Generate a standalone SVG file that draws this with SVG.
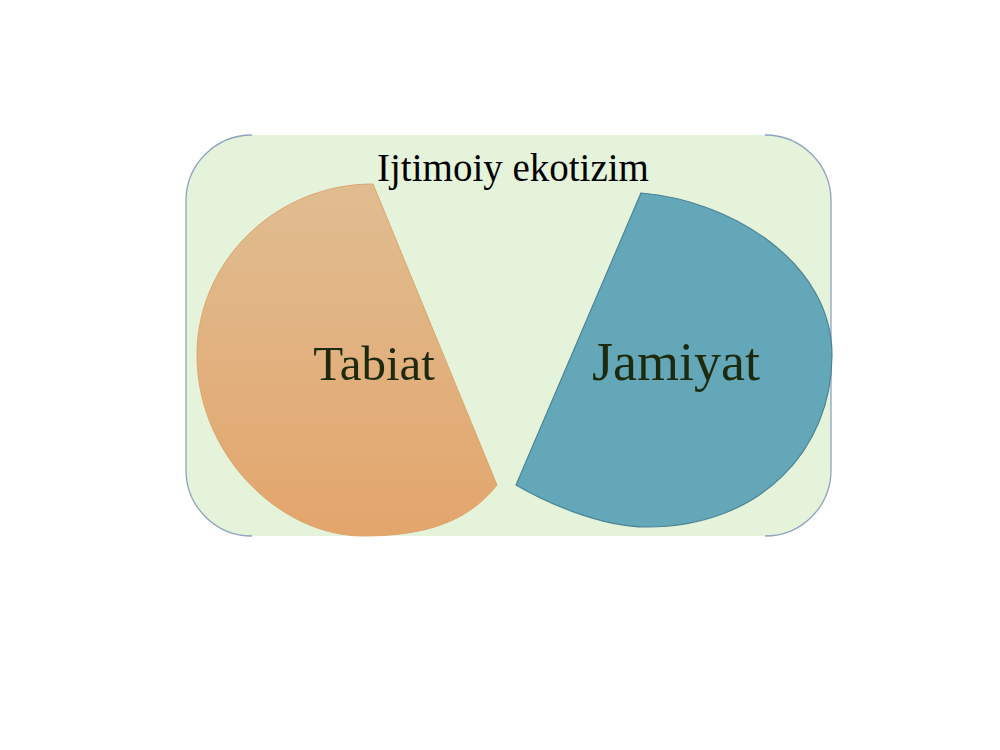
<svg xmlns="http://www.w3.org/2000/svg" width="1000" height="750" viewBox="0 0 1000 750">
  <defs>
    <linearGradient id="orangeGrad" x1="0" y1="0" x2="0" y2="1">
      <stop offset="0" stop-color="#E0BD91"/>
      <stop offset="1" stop-color="#E3A56C"/>
    </linearGradient>
    <style>
      .frame-edge { fill: none; stroke: #8EA2C2; stroke-width: 1.3; }
      .title { font-family: "Liberation Serif", "Times New Roman", serif; fill: #000000; text-anchor: middle; }
      .label { font-family: "Liberation Serif", "Times New Roman", serif; fill: #1E2A0E; text-anchor: middle; }
    </style>
  </defs>
  <rect width="1000" height="750" fill="#FFFFFF"/>
  <g id="ekotizim">
    <rect x="186" y="135" width="645" height="401" rx="66" ry="66" fill="#E5F3DA"/>
    <path class="frame-edge" d="M 252 135 A 66 66 0 0 0 186 201 L 186 470 A 66 66 0 0 0 252 536"/>
    <path class="frame-edge" d="M 765 135 A 66 66 0 0 1 831 201 L 831 470 A 66 66 0 0 1 765 536"/>
    <text class="title" x="513" y="181" font-size="39">Ijtimoiy ekotizim</text>
  </g>
  <g id="tabiat">
    <path d="M 373 184 C 276 184 197 261 197 355 C 197 455 280 536 363 536 C 425 536 468 522 497 485 Z" fill="url(#orangeGrad)" stroke="#DCA56E" stroke-width="1"/>
    <text class="label" x="374" y="380" font-size="49">Tabiat</text>
  </g>
  <g id="jamiyat">
    <path d="M 641 193 C 730 200 832 262 832 355 C 832 450 760 527 647 527 C 600 527 545 502 516 485 Z" fill="#63A7B8" stroke="#4C8496" stroke-width="1.2"/>
    <text class="label" x="676" y="380" font-size="54">Jamiyat</text>
  </g>
  <g id="connectors"/>
</svg>
